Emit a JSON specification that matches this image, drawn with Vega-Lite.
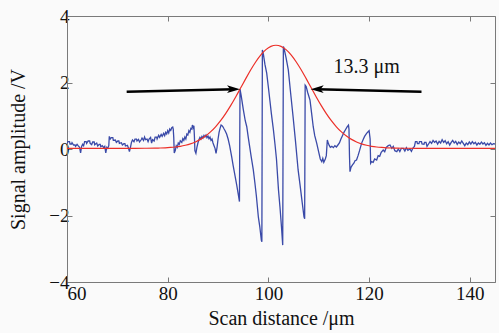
{
  "$schema": "https://vega.github.io/schema/vega-lite/v6.json",
  "width": 428,
  "height": 266,
  "autosize": "none",
  "padding": {"left": 67, "top": 16, "right": 4, "bottom": 51},
  "background": "#fafafa",
  "config": {
    "view": {"stroke": null},
    "axis": {
      "grid": false,
      "domainColor": "#7a7a7a",
      "tickColor": "#7a7a7a",
      "tickSize": -5,
      "labelFont": "Liberation Serif",
      "labelFontSize": 19,
      "labelColor": "#111",
      "titleFont": "Liberation Serif",
      "titleFontSize": 20,
      "titleFontWeight": "normal",
      "titleColor": "#111"
    }
  },
  "datasets": {
    "signal": [
      {"x":60.0,"y":0.18},{"x":60.2,"y":0.22},{"x":60.5,"y":0.22},{"x":60.6,"y":0.15},{"x":60.9,"y":0.15},{"x":61.0,"y":0.19},{"x":61.3,"y":0.12},{"x":61.6,"y":0.12},{"x":61.7,"y":0.08},{"x":62.0,"y":0.14},{"x":62.2,"y":0.10},{"x":62.5,"y":0.05},{"x":62.7,"y":-0.12},{"x":62.9,"y":0.08},{"x":63.1,"y":0.14},{"x":63.3,"y":0.10},{"x":63.5,"y":0.22},{"x":63.8,"y":0.22},{"x":63.9,"y":0.17},{"x":64.2,"y":0.24},{"x":64.5,"y":0.24},{"x":64.6,"y":0.17},{"x":64.9,"y":0.13},{"x":65.1,"y":0.21},{"x":65.4,"y":0.21},{"x":65.5,"y":0.13},{"x":65.9,"y":0.18},{"x":66.1,"y":0.09},{"x":66.4,"y":0.14},{"x":66.6,"y":0.14},{"x":66.7,"y":0.07},{"x":67.0,"y":0.10},{"x":67.3,"y":0.04},{"x":67.5,"y":0.08},{"x":67.7,"y":-0.12},{"x":67.9,"y":0.05},{"x":68.1,"y":0.02},{"x":68.3,"y":0.10},{"x":68.4,"y":0.38},{"x":68.6,"y":0.30},{"x":68.8,"y":0.34},{"x":69.1,"y":0.34},{"x":69.2,"y":0.26},{"x":69.6,"y":0.27},{"x":69.8,"y":0.20},{"x":70.1,"y":0.24},{"x":70.3,"y":0.24},{"x":70.4,"y":0.17},{"x":70.8,"y":0.19},{"x":71.0,"y":0.12},{"x":71.3,"y":0.16},{"x":71.5,"y":0.16},{"x":71.6,"y":0.09},{"x":72.0,"y":0.11},{"x":72.2,"y":0.03},{"x":72.4,"y":-0.08},{"x":72.6,"y":0.05},{"x":72.8,"y":0.20},{"x":73.0,"y":0.27},{"x":73.3,"y":0.22},{"x":73.5,"y":0.30},{"x":73.8,"y":0.30},{"x":73.9,"y":0.24},{"x":74.2,"y":0.29},{"x":74.4,"y":0.21},{"x":74.7,"y":0.27},{"x":74.9,"y":0.33},{"x":75.2,"y":0.26},{"x":75.4,"y":0.36},{"x":75.6,"y":0.28},{"x":75.9,"y":0.30},{"x":76.1,"y":0.22},{"x":76.3,"y":0.30},{"x":76.6,"y":0.35},{"x":76.8,"y":0.18},{"x":77.0,"y":0.28},{"x":77.3,"y":0.24},{"x":77.5,"y":0.36},{"x":77.8,"y":0.36},{"x":77.9,"y":0.30},{"x":78.2,"y":0.41},{"x":78.4,"y":0.35},{"x":78.7,"y":0.44},{"x":78.9,"y":0.38},{"x":79.2,"y":0.47},{"x":79.4,"y":0.40},{"x":79.6,"y":0.50},{"x":79.8,"y":0.45},{"x":80.0,"y":0.55},{"x":80.2,"y":0.48},{"x":80.4,"y":0.60},{"x":80.6,"y":0.56},{"x":80.8,"y":0.64},{"x":81.0,"y":0.66},{"x":81.1,"y":0.60},{"x":81.2,"y":0.35},{"x":81.3,"y":-0.12},{"x":81.5,"y":-0.05},{"x":81.7,"y":0.10},{"x":81.9,"y":0.05},{"x":82.1,"y":0.18},{"x":82.3,"y":0.14},{"x":82.5,"y":0.25},{"x":82.8,"y":0.20},{"x":83.0,"y":0.31},{"x":83.2,"y":0.26},{"x":83.4,"y":0.36},{"x":83.6,"y":0.30},{"x":83.8,"y":0.45},{"x":84.0,"y":0.42},{"x":84.2,"y":0.55},{"x":84.4,"y":0.50},{"x":84.6,"y":0.62},{"x":84.8,"y":0.60},{"x":84.9,"y":0.72},{"x":85.1,"y":0.64},{"x":85.2,"y":0.70},{"x":85.3,"y":0.40},{"x":85.4,"y":-0.05},{"x":85.6,"y":-0.13},{"x":85.8,"y":0.05},{"x":86.0,"y":0.18},{"x":86.2,"y":0.28},{"x":86.4,"y":0.35},{"x":86.6,"y":0.30},{"x":86.8,"y":0.38},{"x":87.0,"y":0.33},{"x":87.2,"y":0.41},{"x":87.4,"y":0.36},{"x":87.6,"y":0.42},{"x":87.8,"y":0.34},{"x":88.0,"y":0.39},{"x":88.2,"y":0.31},{"x":88.4,"y":0.36},{"x":88.6,"y":0.26},{"x":88.8,"y":0.30},{"x":89.0,"y":0.18},{"x":89.2,"y":0.10},{"x":89.4,"y":0.02},{"x":89.6,"y":-0.13},{"x":89.8,"y":0.05},{"x":90.0,"y":0.30},{"x":90.2,"y":0.50},{"x":90.4,"y":0.62},{"x":90.6,"y":0.72},{"x":90.8,"y":0.70},{"x":91.0,"y":0.66},{"x":91.2,"y":0.60},{"x":91.4,"y":0.55},{"x":91.7,"y":0.45},{"x":92.0,"y":0.30},{"x":92.3,"y":0.10},{"x":92.7,"y":-0.23},{"x":93.0,"y":-0.50},{"x":93.4,"y":-0.83},{"x":93.7,"y":-1.08},{"x":94.0,"y":-1.35},{"x":94.25,"y":-1.58},
      {"x":94.36,"y":1.80},{"x":94.6,"y":1.60},{"x":95.0,"y":1.20},{"x":95.4,"y":0.85},{"x":95.7,"y":0.67},{"x":96.0,"y":0.35},{"x":96.3,"y":0.05},{"x":96.6,"y":-0.25},{"x":97.0,"y":-0.63},{"x":97.3,"y":-1.00},{"x":97.6,"y":-1.40},{"x":98.0,"y":-2.04},{"x":98.3,"y":-2.35},{"x":98.6,"y":-2.75},{"x":98.7,"y":-2.79},
      {"x":98.8,"y":2.98},{"x":99.0,"y":2.85},{"x":99.3,"y":2.55},{"x":99.66,"y":2.28},{"x":100.0,"y":1.85},{"x":100.3,"y":1.45},{"x":100.6,"y":1.05},{"x":101.0,"y":0.57},{"x":101.3,"y":0.15},{"x":101.6,"y":-0.30},{"x":102.0,"y":-1.23},{"x":102.3,"y":-1.75},{"x":102.6,"y":-2.35},{"x":102.84,"y":-2.89},
      {"x":102.97,"y":3.08},{"x":103.1,"y":3.03},{"x":103.5,"y":2.75},{"x":103.95,"y":2.38},{"x":104.4,"y":1.70},{"x":104.9,"y":0.97},{"x":105.4,"y":0.20},{"x":105.9,"y":-0.63},{"x":106.3,"y":-1.10},{"x":106.7,"y":-1.60},{"x":107.07,"y":-2.04},{"x":107.2,"y":-2.10},
      {"x":107.3,"y":1.92},{"x":107.5,"y":1.88},{"x":107.8,"y":1.70},{"x":108.26,"y":1.47},{"x":108.6,"y":1.05},{"x":108.9,"y":0.67},{"x":109.2,"y":0.40},{"x":109.6,"y":0.17},{"x":110.0,"y":-0.10},{"x":110.3,"y":-0.30},{"x":110.6,"y":-0.38},{"x":110.8,"y":-0.28},{"x":111.0,"y":-0.40},{"x":111.3,"y":-0.30},{"x":111.5,"y":-0.20},{"x":111.7,"y":0.27},{"x":111.9,"y":0.17},{"x":112.1,"y":0.10},{"x":112.3,"y":0.05},{"x":112.6,"y":0.08},{"x":112.9,"y":0.04},{"x":113.2,"y":0.10},{"x":113.5,"y":0.06},{"x":113.8,"y":0.12},{"x":114.1,"y":0.18},{"x":114.4,"y":0.30},{"x":114.7,"y":0.40},{"x":115.0,"y":0.50},{"x":115.3,"y":0.58},{"x":115.6,"y":0.66},{"x":115.9,"y":0.72},{"x":116.0,"y":0.60},{"x":116.1,"y":-0.20},{"x":116.2,"y":-0.68},{"x":116.4,"y":-0.55},{"x":116.7,"y":-0.48},{"x":117.0,"y":-0.42},{"x":117.2,"y":-0.35},{"x":117.5,"y":-0.33},{"x":117.8,"y":-0.20},{"x":118.1,"y":-0.05},{"x":118.5,"y":0.17},{"x":118.8,"y":0.28},{"x":119.1,"y":0.38},{"x":119.5,"y":0.47},{"x":119.8,"y":0.52},{"x":120.0,"y":0.55},{"x":120.2,"y":0.30},{"x":120.3,"y":-0.43},{"x":120.5,"y":-0.38},{"x":120.8,"y":-0.40},{"x":121.1,"y":-0.30},{"x":121.5,"y":-0.33},{"x":121.8,"y":-0.20},{"x":122.1,"y":-0.22},{"x":122.4,"y":-0.10},{"x":122.8,"y":-0.03},{"x":123.1,"y":-0.08},{"x":123.4,"y":0.05},{"x":123.8,"y":0.10},{"x":124.15,"y":0.12},{"x":124.5,"y":0.02},{"x":124.8,"y":0.08},{"x":125.1,"y":-0.05},{"x":125.5,"y":-0.08},{"x":125.8,"y":0.00},{"x":126.1,"y":-0.08},{"x":126.4,"y":0.02},{"x":126.8,"y":0.02},{"x":127.1,"y":-0.06},{"x":127.4,"y":0.04},{"x":127.7,"y":-0.04},{"x":128.1,"y":0.00},{"x":128.4,"y":-0.07},{"x":128.7,"y":0.03},{"x":129.0,"y":0.08},{"x":129.2,"y":0.22},{"x":129.5,"y":0.22},{"x":129.6,"y":0.16},{"x":129.9,"y":0.16},{"x":130.0,"y":0.22},{"x":130.4,"y":0.22},{"x":130.5,"y":0.15},{"x":130.9,"y":0.14},{"x":131.0,"y":0.20},{"x":131.3,"y":0.20},{"x":131.5,"y":0.08},{"x":131.8,"y":0.15},{"x":132.1,"y":0.22},{"x":132.4,"y":0.17},{"x":132.7,"y":0.26},{"x":133.0,"y":0.20},{"x":133.3,"y":0.24},{"x":133.6,"y":0.15},{"x":133.9,"y":0.23},{"x":134.2,"y":0.18},{"x":134.5,"y":0.28},{"x":134.8,"y":0.20},{"x":135.1,"y":0.25},{"x":135.4,"y":0.16},{"x":135.7,"y":0.22},{"x":136.0,"y":0.12},{"x":136.3,"y":0.20},{"x":136.6,"y":0.26},{"x":136.9,"y":0.18},{"x":137.2,"y":0.23},{"x":137.5,"y":0.14},{"x":137.8,"y":0.21},{"x":138.1,"y":0.16},{"x":138.4,"y":0.24},{"x":138.7,"y":0.17},{"x":139.0,"y":0.10},{"x":139.3,"y":0.18},{"x":139.6,"y":0.13},{"x":139.9,"y":0.21},{"x":140.2,"y":0.15},{"x":140.5,"y":0.22},{"x":140.8,"y":0.16},{"x":141.1,"y":0.20},{"x":141.4,"y":0.12},{"x":141.7,"y":0.18},{"x":142.0,"y":0.14},{"x":142.3,"y":0.21},{"x":142.6,"y":0.15},{"x":142.9,"y":0.19},{"x":143.2,"y":0.11},{"x":143.5,"y":0.17},{"x":143.8,"y":0.12},{"x":144.1,"y":0.18},{"x":144.4,"y":0.13},{"x":144.7,"y":0.16},{"x":145.0,"y":0.15}
    ],
    "fit": [
      {"x":60,"y":0.02},{"x":70,"y":0.02},{"x":73.5,"y":0.02},{"x":75.5,"y":0.022},{"x":77.5,"y":0.026},{"x":78.5,"y":0.030},{"x":79.5,"y":0.036},{"x":80.5,"y":0.046},{"x":81.5,"y":0.060},{"x":82.5,"y":0.081},{"x":83.5,"y":0.112},{"x":84.5,"y":0.154},{"x":85.5,"y":0.212},{"x":86.5,"y":0.289},{"x":87.5,"y":0.388},{"x":88.5,"y":0.514},{"x":89.5,"y":0.668},{"x":90.5,"y":0.852},{"x":91.5,"y":1.065},{"x":92.5,"y":1.305},{"x":93.5,"y":1.566},{"x":94.5,"y":1.840},{"x":95.5,"y":2.116},{"x":96.5,"y":2.383},{"x":97.5,"y":2.625},{"x":98.5,"y":2.831},{"x":99.5,"y":2.988},{"x":100.5,"y":3.087},{"x":101.5,"y":3.12},{"x":102.5,"y":3.087},{"x":103.5,"y":2.988},{"x":104.5,"y":2.831},{"x":105.5,"y":2.625},{"x":106.5,"y":2.383},{"x":107.5,"y":2.116},{"x":108.5,"y":1.840},{"x":109.5,"y":1.566},{"x":110.5,"y":1.305},{"x":111.5,"y":1.065},{"x":112.5,"y":0.852},{"x":113.5,"y":0.668},{"x":114.5,"y":0.514},{"x":115.5,"y":0.388},{"x":116.5,"y":0.289},{"x":117.5,"y":0.212},{"x":118.5,"y":0.154},{"x":119.5,"y":0.112},{"x":120.5,"y":0.081},{"x":121.5,"y":0.060},{"x":122.5,"y":0.046},{"x":123.5,"y":0.036},{"x":124.5,"y":0.030},{"x":125.5,"y":0.026},{"x":127.5,"y":0.022},{"x":129.5,"y":0.02},{"x":145,"y":0.02}
    ],
    "shafts": [
      {"x":71.85,"y":1.72,"x2":93.2,"y2":1.795},
      {"x":130.4,"y":1.72,"x2":109.6,"y2":1.795}
    ],
    "tipRight": [{"x":94.36,"y":1.80}],
    "tipLeft": [{"x":108.4,"y":1.80}],
    "label": [{"x":119.5,"y":2.47,"text":"13.3 μm"}]
  },
  "layer": [
    {
      "data": {"name": "signal"},
      "mark": {"type": "line", "color": "#3a4aa8", "strokeWidth": 1.3, "clip": true},
      "encoding": {
        "x": {"field": "x", "type": "quantitative", "scale": {"domain": [60, 145], "nice": false, "zero": false},
              "axis": {"orient": "bottom", "values": [60, 80, 100, 120, 140], "title": "Scan distance /μm", "labelPadding": 7, "titlePadding": 5}},
        "y": {"field": "y", "type": "quantitative", "scale": {"domain": [-4, 4], "nice": false},
              "axis": {"orient": "left", "values": [-4, -2, 0, 2, 4], "title": "Signal amplitude /V", "labelPadding": 3, "titlePadding": 20}}
      }
    },
    {
      "data": {"name": "fit"},
      "mark": {"type": "line", "color": "#ec2f28", "strokeWidth": 1.2, "interpolate": "monotone"},
      "encoding": {
        "x": {"field": "x", "type": "quantitative", "axis": {"orient": "top", "values": [60, 80, 100, 120, 140], "labels": false, "title": null}},
        "y": {"field": "y", "type": "quantitative", "axis": {"orient": "right", "values": [-4, -2, 0, 2, 4], "labels": false, "title": null}}
      }
    },
    {
      "data": {"name": "shafts"},
      "mark": {"type": "rule", "color": "#000", "strokeWidth": 2.6},
      "encoding": {
        "x": {"field": "x", "type": "quantitative", "axis": null},
        "y": {"field": "y", "type": "quantitative", "axis": null},
        "x2": {"field": "x2"},
        "y2": {"field": "y2"}
      }
    },
    {
      "data": {"name": "tipRight"},
      "mark": {"type": "point", "shape": "M0,0 L-2,-0.6 L-1.5,0 L-2,0.6 Z", "size": 169, "filled": true, "color": "#000", "opacity": 1},
      "encoding": {
        "x": {"field": "x", "type": "quantitative", "axis": null},
        "y": {"field": "y", "type": "quantitative", "axis": null}
      }
    },
    {
      "data": {"name": "tipLeft"},
      "mark": {"type": "point", "shape": "M0,0 L2,-0.6 L1.5,0 L2,0.6 Z", "size": 169, "filled": true, "color": "#000", "opacity": 1},
      "encoding": {
        "x": {"field": "x", "type": "quantitative", "axis": null},
        "y": {"field": "y", "type": "quantitative", "axis": null}
      }
    },
    {
      "data": {"name": "label"},
      "mark": {"type": "text", "font": "Liberation Serif", "fontSize": 20, "color": "#111", "align": "center", "baseline": "middle"},
      "encoding": {
        "x": {"field": "x", "type": "quantitative", "axis": null},
        "y": {"field": "y", "type": "quantitative", "axis": null},
        "text": {"field": "text"}
      }
    }
  ],
  "resolve": {"axis": {"x": "independent", "y": "independent"}}
}
